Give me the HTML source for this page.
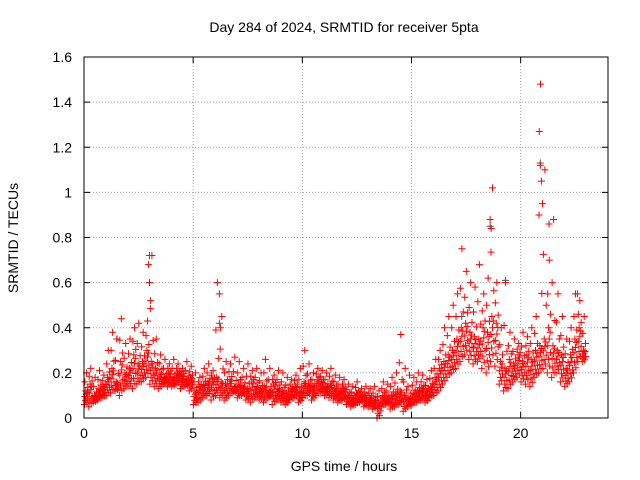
<!DOCTYPE html>
<html><head><meta charset="utf-8"><style>
body{margin:0;background:#fff}
svg{display:block;font-family:"Liberation Sans",sans-serif}
</style></head><body>
<svg id="chart" width="640" height="480">
<text x="344" y="32" text-anchor="middle" font-size="14">Day 284 of 2024, SRMTID for receiver 5pta</text>
<text x="344" y="471" text-anchor="middle" font-size="14">GPS time / hours</text>
<text transform="translate(18,238) rotate(-90)" text-anchor="middle" font-size="14">SRMTID / TECUs</text>
<g id="grid"></g><g id="ticks"></g><g id="marks"></g>
<rect x="84" y="57" width="524" height="361" fill="none" stroke="#000"/>
</svg>
<script>
const hours=[0,0.2,0.4,0.6,0.8,1,1.2,1.4,1.6,1.8,2,2.2,2.4,2.6,2.8,3,3.2,3.4,3.6,3.8,4,4.2,4.4,4.6,4.8,5,5.2,5.4,5.6,5.8,6,6.2,6.4,6.6,6.8,7,7.2,7.4,7.6,7.8,8,8.2,8.4,8.6,8.8,9,9.2,9.4,9.6,9.8,10,10.2,10.4,10.6,10.8,11,11.2,11.4,11.6,11.8,12,12.2,12.4,12.6,12.8,13,13.2,13.4,13.6,13.8,14,14.2,14.4,14.6,14.8,15,15.2,15.4,15.6,15.8,16,16.2,16.4,16.6,16.8,17,17.2,17.4,17.6,17.8,18,18.2,18.4,18.6,18.8,19,19.2,19.4,19.6,19.8,20,20.2,20.4,20.6,20.8,21,21.2,21.4,21.6,21.8,22,22.2,22.4,22.6,22.8];
const lowVals=[.06,.05,.07,.08,.09,.10,.11,.12,.10,.13,.14,.13,.15,.16,.18,.15,.14,.13,.15,.14,.14,.15,.13,.14,.12,.06,.07,.09,.10,.08,.10,.09,.08,.10,.11,.09,.10,.08,.07,.09,.08,.07,.09,.06,.08,.07,.06,.08,.09,.07,.09,.10,.08,.10,.11,.10,.09,.08,.07,.08,.06,.05,.06,.07,.05,.05,.04,.00,.05,.06,.04,.05,.06,.03,.05,.06,.07,.08,.07,.09,.10,.12,.15,.18,.20,.22,.25,.28,.26,.24,.25,.22,.20,.25,.23,.15,.12,.13,.16,.18,.16,.15,.14,.18,.20,.22,.20,.18,.20,.16,.14,.16,.20,.25,.25];
const midVals=[.12,.15,.10,.13,.14,.18,.22,.16,.25,.20,.22,.28,.24,.25,.30,.25,.22,.20,.18,.20,.18,.20,.19,.17,.18,.12,.14,.15,.16,.17,.18,.16,.15,.17,.14,.15,.14,.13,.16,.14,.13,.14,.12,.15,.13,.12,.11,.13,.14,.12,.16,.15,.14,.17,.16,.14,.15,.13,.12,.13,.10,.09,.11,.10,.09,.09,.08,.07,.10,.09,.10,.11,.12,.10,.09,.11,.12,.13,.12,.14,.18,.22,.25,.28,.30,.35,.40,.42,.38,.36,.35,.40,.38,.45,.42,.25,.22,.26,.24,.28,.25,.28,.26,.30,.32,.35,.40,.32,.30,.28,.22,.28,.35,.40,.30];
const highVals=[.20,.22,.18,.21,.19,.30,.38,.35,.44,.33,.35,.40,.42,.38,.43,.72,.35,.28,.26,.24,.26,.24,.22,.25,.23,.20,.18,.22,.24,.21,.60,.45,.25,.24,.27,.25,.22,.24,.21,.22,.20,.26,.22,.19,.21,.20,.18,.17,.19,.22,.30,.24,.20,.22,.21,.20,.22,.19,.18,.17,.15,.14,.16,.13,.14,.13,.14,.12,.16,.15,.18,.20,.37,.22,.19,.18,.20,.19,.17,.21,.26,.30,.40,.45,.50,.55,.75,.65,.60,.58,.68,.55,.62,1.02,.60,.40,.60,.38,.35,.33,.38,.36,.40,.45,1.48,1.10,.70,.88,.55,.45,.35,.40,.55,.52,.45];
const spikeHours=[2.95,3.0,3.05,6.2,6.25,18.6,18.65,20.85,20.9,20.95,21.0,21.3];
const spikeVals=[.68,.60,.52,.55,.40,.88,.84,1.27,1.12,1.05,.95,.86];
const grayHours=[3.0,6.2,18.6,20.9,19.3,22.6,1.5,17.3];
const grayVals=[.72,.42,.85,1.13,.61,.55,.35,.45];
const xTicks=[0,5,10,15,20];
const yTicks=[0,0.2,0.4,0.6,0.8,1,1.2,1.4,1.6];
const yLabels=["0","0.2","0.4","0.6","0.8","1","1.2","1.4","1.6"];

const X0=84,X1=608,Y0=418,Y1=57,XMAX=24,YMAX=1.6;
const sx=v=>X0+(X1-X0)*v/XMAX, sy=v=>Y0-(Y0-Y1)*v/YMAX;
const NS="http://www.w3.org/2000/svg";
const grid=document.getElementById('grid'),ticks=document.getElementById('ticks'),marks=document.getElementById('marks');
function mk(tag,attrs,parent){const e=document.createElementNS(NS,tag);for(const k in attrs)e.setAttribute(k,attrs[k]);parent.appendChild(e);return e;}
xTicks.forEach(t=>{
  const x=sx(t);
  if(t>0){const g=mk('line',{x1:x,x2:x,y1:Y0,y2:Y1,stroke:'#a0a0a0','stroke-dasharray':'1,2'},grid);
  
  }
  mk('line',{x1:x,x2:x,y1:Y0,y2:Y0-6,stroke:'#000'},ticks);
  mk('line',{x1:x,x2:x,y1:Y1,y2:Y1+6,stroke:'#000'},ticks);
  const l=mk('text',{x:x,y:Y0+20,'text-anchor':'middle','font-size':'14'},ticks);
  l.textContent=t;
  
  
});
yTicks.forEach((t,i)=>{
  const y=sy(t);
  if(t>0&&t<YMAX){const g=mk('line',{x1:X0,x2:X1,y1:y,y2:y,stroke:'#a0a0a0','stroke-dasharray':'1,2'},grid);
  
  }
  mk('line',{x1:X0,x2:X0+6,y1:y,y2:y,stroke:'#000'},ticks);
  mk('line',{x1:X1,x2:X1-6,y1:y,y2:y,stroke:'#000'},ticks);
  const l=mk('text',{x:X0-12,y:y+5,'text-anchor':'end','font-size':'14'},ticks);
  l.textContent=yLabels[i];
  
  
});
function plus(h,v,color){
  const x=sx(h),y=sy(v);
  const p=mk('path',{d:`M${x-3.5},${y}H${x+3.5}M${x},${y-3.5}V${y+3.5}`,stroke:color,'stroke-width':'1'},marks);
  
  
}
grayHours.forEach((h,i)=>plus(h,grayVals[i],'#555'));
const fr=[0,0.15,0.3,0.45,0.6,0.75,0.9,1];
const off=[0.02,0.13,0.07,0.17,0.04,0.11,0.15,0.08];
hours.forEach((h,i)=>{
  const lo=lowVals[i],md=midVals[i],hi=highVals[i];
  fr.forEach((f,k)=>{plus(h+off[k],lo+(md-lo)*f,'#f00');});
  [0.2,0.5,1].forEach((f,k)=>{plus(h+off[k+3],md+(hi-md)*f,'#f00');});
});
spikeHours.forEach((h,i)=>plus(h,spikeVals[i],'#f00'));
</script>
</body></html>
